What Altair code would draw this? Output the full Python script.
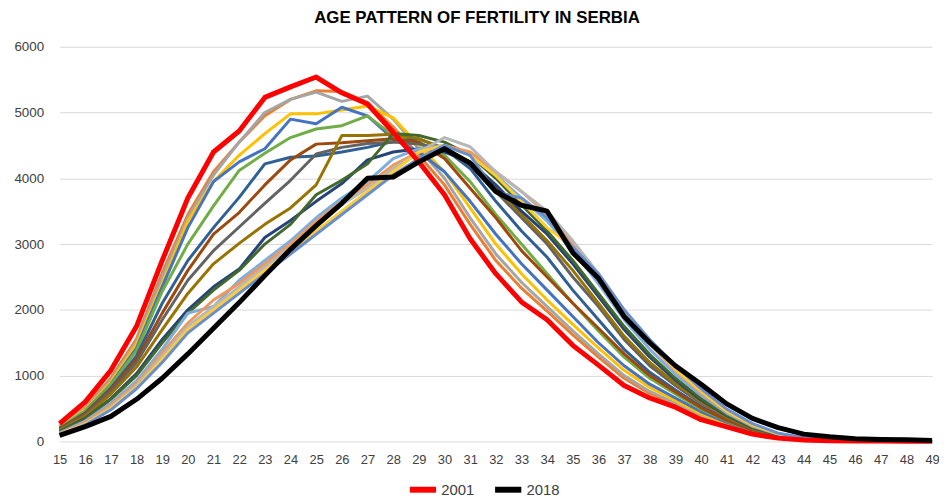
import altair as alt
import pandas as pd

ages = list(range(15, 50))

years = [str(y) for y in range(2001, 2019)]

colors = {
    "2001": "#FF0000", "2002": "#ED7D31", "2003": "#A5A5A5", "2004": "#FFC000",
    "2005": "#4472C4", "2006": "#70AD47", "2007": "#2E5F95", "2008": "#9E480E",
    "2009": "#636363", "2010": "#997300", "2011": "#264478", "2012": "#43682B",
    "2013": "#7CAFDD", "2014": "#F1975A", "2015": "#B7B7B7", "2016": "#FFCD33",
    "2017": "#698ED0", "2018": "#000000",
}

v2001 = [270, 600, 1080, 1750, 2750, 3700, 4400, 4720, 5230, 5390, 5540, 5300, 5130, 4700, 4250, 3750, 3080, 2550, 2120, 1850, 1460, 1160, 850, 660, 520, 330, 220, 110, 50, 20, 10, 5, 4, 3, 2]
v2002 = [230, 520, 960, 1560, 2560, 3450, 4100, 4550, 4950, 5200, 5330, 5320, 5150, 4780, 4350, 3900, 3300, 2750, 2330, 1980, 1620, 1280, 960, 730, 560, 380, 240, 130, 60, 25, 12, 6, 4, 3, 2]
v2003 = [220, 500, 930, 1520, 2500, 3400, 4050, 4550, 5000, 5200, 5310, 5170, 5250, 4900, 4450, 4000, 3400, 2850, 2420, 2050, 1680, 1330, 1000, 760, 580, 400, 250, 140, 65, 28, 13, 7, 5, 3, 2]
v2004 = [210, 480, 900, 1480, 2400, 3350, 3950, 4350, 4680, 4980, 4980, 5040, 5100, 4920, 4500, 4100, 3550, 3000, 2550, 2150, 1780, 1420, 1080, 820, 620, 420, 270, 150, 70, 30, 14, 7, 5, 3, 2]
v2005 = [200, 460, 870, 1420, 2350, 3250, 3950, 4250, 4450, 4900, 4830, 5080, 4950, 4600, 4400, 4100, 3650, 3150, 2700, 2300, 1900, 1500, 1150, 870, 660, 450, 290, 160, 75, 32, 15, 8, 5, 3, 2]
v2006 = [210, 460, 860, 1380, 2280, 3000, 3580, 4120, 4380, 4620, 4750, 4800, 4950, 4650, 4550, 4350, 3950, 3450, 3000, 2550, 2100, 1680, 1280, 960, 720, 490, 310, 170, 80, 35, 16, 8, 5, 3, 2]
v2007 = [190, 430, 810, 1300, 2100, 2750, 3250, 3710, 4220, 4320, 4340, 4400, 4470, 4560, 4600, 4450, 4150, 3650, 3200, 2800, 2300, 1850, 1400, 1050, 780, 530, 330, 180, 85, 37, 17, 8, 5, 3, 2]
v2008 = [190, 420, 790, 1250, 1950, 2600, 3150, 3480, 3900, 4280, 4520, 4540, 4570, 4600, 4550, 4300, 3850, 3400, 2900, 2500, 2100, 1720, 1330, 1000, 750, 510, 320, 175, 84, 36, 16, 8, 5, 3, 2]
v2009 = [180, 400, 760, 1200, 1850, 2450, 2900, 3260, 3620, 3970, 4370, 4470, 4530, 4550, 4520, 4450, 4200, 3800, 3400, 3000, 2500, 2050, 1550, 1150, 850, 580, 360, 195, 92, 40, 18, 9, 5, 3, 2]
v2010 = [170, 380, 720, 1130, 1700, 2250, 2700, 3010, 3300, 3550, 3900, 4650, 4650, 4670, 4600, 4450, 4250, 3850, 3450, 3050, 2600, 2100, 1600, 1200, 880, 600, 370, 200, 95, 42, 19, 9, 5, 3, 2]
v2011 = [150, 350, 650, 1030, 1550, 2000, 2350, 2620, 3100, 3360, 3650, 3920, 4280, 4400, 4450, 4400, 4250, 3900, 3500, 3150, 2700, 2200, 1700, 1280, 930, 630, 390, 210, 100, 44, 20, 10, 6, 4, 2]
v2012 = [150, 340, 640, 1000, 1500, 1950, 2300, 2600, 3000, 3300, 3750, 3970, 4220, 4680, 4650, 4550, 4350, 4000, 3600, 3200, 2750, 2250, 1750, 1320, 960, 650, 400, 215, 102, 45, 20, 10, 6, 4, 2]
v2013 = [130, 310, 580, 920, 1400, 1950, 2050, 2450, 2750, 3050, 3400, 3700, 3950, 4300, 4450, 4500, 4350, 4050, 3700, 3350, 2900, 2400, 1850, 1400, 1020, 700, 430, 230, 110, 48, 22, 11, 6, 4, 3]
v2014 = [120, 290, 550, 880, 1350, 1800, 2150, 2400, 2700, 3000, 3350, 3650, 3900, 4200, 4400, 4500, 4400, 4100, 3800, 3450, 3000, 2500, 1950, 1480, 1080, 740, 450, 240, 115, 50, 23, 11, 6, 4, 3]
v2015 = [110, 270, 520, 850, 1300, 1750, 2050, 2350, 2650, 2950, 3300, 3600, 3850, 4150, 4400, 4620, 4480, 4100, 3800, 3500, 3050, 2550, 2000, 1520, 1120, 770, 470, 255, 120, 52, 24, 12, 7, 4, 3]
v2016 = [105, 260, 500, 820, 1250, 1700, 2000, 2300, 2600, 2900, 3200, 3500, 3800, 4100, 4400, 4500, 4350, 4040, 3650, 3250, 2950, 2500, 1950, 1500, 1100, 760, 460, 250, 118, 52, 24, 12, 7, 4, 3]
v2017 = [100, 250, 480, 800, 1200, 1650, 1950, 2250, 2550, 2850, 3150, 3450, 3750, 4050, 4300, 4500, 4350, 3790, 3700, 3400, 2950, 2550, 2000, 1550, 1150, 800, 490, 270, 125, 55, 26, 13, 7, 4, 3]
v2018 = [90, 225, 380, 640, 960, 1330, 1720, 2110, 2520, 2920, 3280, 3620, 4000, 4020, 4250, 4450, 4230, 3800, 3590, 3500, 2870, 2480, 1900, 1500, 1150, 870, 570, 350, 210, 110, 70, 40, 30, 25, 15]

series = [v2001, v2002, v2003, v2004, v2005, v2006, v2007, v2008, v2009,
          v2010, v2011, v2012, v2013, v2014, v2015, v2016, v2017, v2018]

rows = []
for yr, vals in zip(years, series):
    for a, v in zip(ages, vals):
        rows.append({"age": a, "value": v, "year": yr, "col": colors[yr]})
df = pd.DataFrame(rows)

thin_df = df[~df["year"].isin(["2001", "2018"])]
thick_df = df[df["year"].isin(["2001", "2018"])]

FONT = "Liberation Sans"

x_enc = alt.X("age:Q",
              scale=alt.Scale(domain=[15, 49], nice=False, zero=False),
              axis=alt.Axis(values=ages, format="d", title=None, grid=False,
                            ticks=False, domain=False, labelPadding=12,
                            labelFontSize=13, labelColor="#404040",
                            labelFont=FONT, labelFlush=False,
                            labelOverlap=False))
y_enc = alt.Y("value:Q",
              scale=alt.Scale(domain=[0, 6000], nice=False),
              axis=alt.Axis(values=[0, 1000, 2000, 3000, 4000, 5000, 6000],
                            format="d",
                            title=None, grid=True, gridColor="#d9d9d9",
                            gridWidth=1, ticks=False, domain=False,
                            labelPadding=16, labelFontSize=13.5,
                            labelColor="#404040", labelFont=FONT))

thin = alt.Chart(thin_df).mark_line(strokeWidth=3, strokeJoin="round").encode(
    x=x_enc, y=y_enc,
    color=alt.Color("col:N", scale=None, legend=None),
    detail="year:N",
)

thick = alt.Chart(thick_df).mark_line(strokeWidth=5, strokeJoin="round").encode(
    x=x_enc, y=y_enc,
    color=alt.Color("year:N",
                    scale=alt.Scale(domain=["2001", "2018"], range=["#FF0000", "#000000"]),
                    legend=alt.Legend(title=None, orient="none", legendX=350, legendY=430,
                                      direction="horizontal", symbolType="stroke",
                                      symbolStrokeWidth=6, symbolSize=700,
                                      labelFontSize=15, labelFont=FONT,
                                      labelColor="#404040", columnPadding=8,
                                      labelOffset=2)),
)

chart = alt.layer(thin, thick).resolve_scale(color="independent").properties(
    width=880, height=398,
    title=alt.TitleParams("AGE PATTERN OF FERTILITY IN SERBIA", fontSize=17,
                          fontWeight="bold", font=FONT, color="#000000",
                          anchor="middle", dx=-19, offset=13),
    autosize=alt.AutoSizeParams(type="none"),
    padding={"left": 52, "top": 37, "right": 7, "bottom": 56},
).configure_view(stroke=None)

chart.save("out.html", embed_options={"renderer": "svg", "actions": False})
